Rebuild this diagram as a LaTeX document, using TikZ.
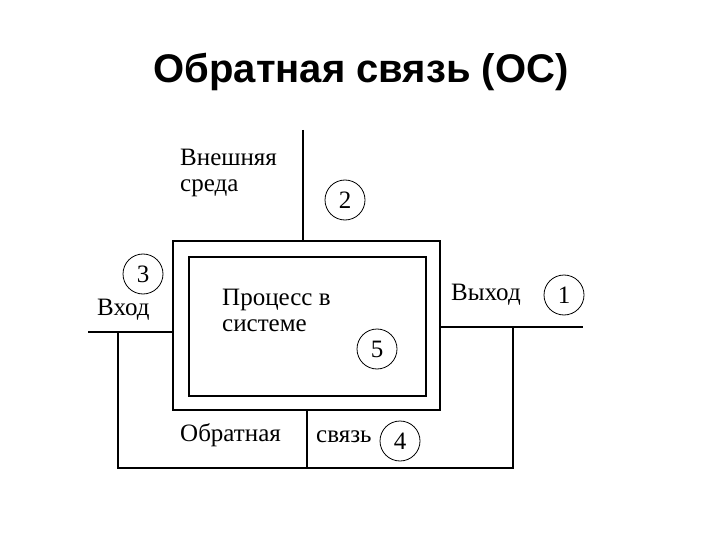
\documentclass[tikz,border=0pt]{standalone}
\usepackage{fontspec}
\setmainfont{Liberation Serif}
\newfontfamily\titlefont{Liberation Sans}
\begin{document}
\begin{tikzpicture}[x=1pt,y=-1pt,
  lbl/.style={font=\fontsize{25}{25}\selectfont, inner sep=0pt, anchor=base west},
  num/.style={draw, circle, line width=0.8pt, minimum size=40pt, inner sep=0pt, font=\fontsize{25}{25}\selectfont},
  box/.style={draw, line width=1.8pt, rectangle, inner sep=0pt},
  wire/.style={line width=1.6pt}]
\useasboundingbox (0,0) rectangle (720,540);
% title
\node[font=\titlefont\bfseries\fontsize{40}{40}\selectfont, inner sep=0pt, anchor=base] (title) at (361,83) {Обратная связь (ОС)};
% boxes
\node[box, minimum width=267pt, minimum height=169pt] (outer) at (306.5,325.5) {};
\node[box, minimum width=237pt, minimum height=139pt] (inner) at (307.5,326.5) {};
% coordinates
\coordinate (envtop) at (303,130);
\coordinate (inL) at (88,332);
\coordinate (outR) at (583,327);
\coordinate (fbR) at (513,327);
\coordinate (fbRB) at (513,468);
\coordinate (fbLB) at (118,468);
\coordinate (fbL) at (118,332);
\coordinate (divB) at (307,468);
% wires
\draw[wire] (envtop) -- (envtop |- outer.north);
\draw[wire, line width=2.4pt] (inL) -- (inL -| outer.west);
\draw[wire] (outR -| outer.east) -- (outR);
\draw[wire] (fbR) -- (fbRB) -- (fbLB) -- (fbL);
\draw[wire, line width=1.2pt] (divB |- outer.south) -- (divB);
% labels
\node[lbl] (env1) at (180,166) {Внешняя};
\node[lbl] (env2) at (180,192) {среда};
\node[lbl] (vhod) at (97,315) {Вход};
\node[lbl] (proc1) at (222,305) {Процесс в};
\node[lbl] (proc2) at (222,331) {системе};
\node[lbl] (vyhod) at (451,300) {Выход};
\node[lbl] (obr) at (180,441) {Обратная};
\node[lbl] (svyaz) at (316,442) {связь};
% numbered circles
\node[num] (n1) at (564,295) {1};
\node[num] (n2) at (345,200) {2};
\node[num] (n3) at (143,274) {3};
\node[num] (n4) at (400,441) {4};
\node[num] (n5) at (377,349) {5};
\end{tikzpicture}
\end{document}
